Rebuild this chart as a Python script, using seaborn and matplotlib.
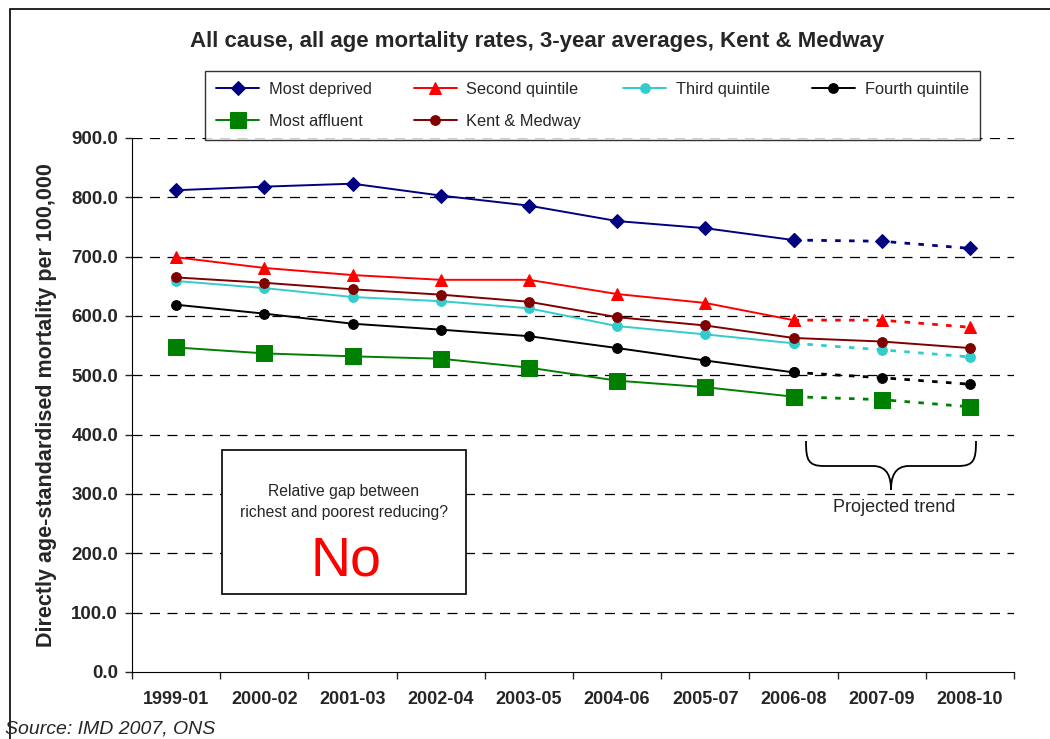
import numpy as np
import pandas as pd
import matplotlib
matplotlib.use("Agg")
import matplotlib.pyplot as plt
from matplotlib.patches import Rectangle, PathPatch
from matplotlib.path import Path
import seaborn as sns

# data
periods = ["1999-01", "2000-02", "2001-03", "2002-04", "2003-05",
           "2004-06", "2005-07", "2006-08", "2007-09", "2008-10"]
most_deprived = [812, 818, 823, 803, 786, 760, 748, 728, 726, 714]
second_quintile = [699, 681, 669, 661, 661, 637, 622, 593, 593, 581]
third_quintile = [659, 647, 632, 625, 613, 583, 569, 554, 543, 531]
fourth_quintile = [619, 604, 587, 577, 566, 546, 525, 505, 496, 485]
most_affluent = [547, 537, 532, 528, 513, 491, 480, 464, 459, 447]
kent_medway = [665, 656, 645, 636, 624, 598, 584, 563, 557, 546]
y_ticks = [0, 100, 200, 300, 400, 500, 600, 700, 800, 900]

last_actual = 7  # 2006-08, later points are projected

sns.set_style("white")
plt.rcParams["font.family"] = ["Liberation Sans", "DejaVu Sans"]

fig = plt.figure(figsize=(10.5, 7.39), dpi=100)
ax = fig.add_axes([132 / 1050, 1 - 672 / 739, (1014 - 132) / 1050, (672 - 138) / 739])

series = [
    ("Most deprived", most_deprived, "#000080", "D", 7.5, True),
    ("Second quintile", second_quintile, "#FF0000", "^", 9, True),
    ("Third quintile", third_quintile, "#33CCCC", "o", 7, True),
    ("Fourth quintile", fourth_quintile, "#000000", "o", 7, True),
    ("Most affluent", most_affluent, "#008000", "s", 11, True),
    ("Kent & Medway", kent_medway, "#800000", "o", 7, False),
]

x = np.arange(len(periods))
for name, vals, col, mk, ms, projected in series:
    vals = np.array(vals)
    end = last_actual + 1 if projected else len(periods)
    sns.lineplot(x=x[:end], y=vals[:end], ax=ax, color=col, marker=mk,
                 markersize=ms, markeredgecolor=col, linewidth=1.4, label=name)
    if projected:
        sns.lineplot(x=x[last_actual:], y=vals[last_actual:], ax=ax, color=col,
                     marker=mk, markersize=ms, markeredgecolor=col,
                     linewidth=2, linestyle=(0, (2, 3)), label="_nolegend_")

# axes styling
ax.set_xlim(-0.5, len(periods) - 0.5)
ax.set_ylim(0, 900)
ax.set_yticks(y_ticks)
ax.set_yticklabels([f"{v:.1f}" for v in y_ticks], fontweight="bold", fontsize=13.5)
ax.set_xticks(x)
ax.set_xticklabels(periods, fontweight="bold", fontsize=13)
ax.set_xticks(np.arange(-0.5, len(periods)), minor=True)
ax.tick_params(axis="x", which="major", length=0, pad=14)
ax.tick_params(axis="x", which="minor", length=5, width=1, direction="out", bottom=True)
ax.tick_params(axis="y", length=5, width=1, direction="out", left=True, pad=5)
for v in y_ticks[1:]:
    ax.axhline(v, color="black", linewidth=0.9, linestyle=(0, (8, 6)), zorder=0)
ax.spines["top"].set_visible(False)
ax.spines["right"].set_visible(False)
ax.spines["left"].set_color("black")
ax.spines["bottom"].set_color("black")
ax.set_xlabel("")
ax.set_ylabel("Directly age-standardised mortality per 100,000",
              fontweight="bold", fontsize=15.5, labelpad=10)

# legend, row-wise order
handles, labels = ax.get_legend_handles_labels()
ax.get_legend().remove()
order = [0, 4, 1, 5, 2, 3]
leg = fig.legend([handles[i] for i in order], [labels[i] for i in order],
                 loc="lower left", ncol=4, mode="expand",
                 bbox_to_anchor=(205 / 1050, 1 - 140 / 739, 775 / 1050, 70 / 739),
                 frameon=True, fancybox=False, edgecolor="black", fontsize=11.8,
                 handlelength=2.6, handletextpad=0.6, borderpad=0.7,
                 labelspacing=1.0, borderaxespad=0)
leg.get_frame().set_linewidth(1)

fig.text(537 / 1050, 1 - 42 / 739,
         "All cause, all age mortality rates, 3-year averages, Kent & Medway",
         ha="center", va="center", fontweight="bold", fontsize=16)

# annotation box
box_l, box_t, box_r, box_b = 222, 450, 466, 594
fig.patches.append(Rectangle((box_l / 1050, 1 - box_b / 739), (box_r - box_l) / 1050,
                             (box_b - box_t) / 739, transform=fig.transFigure,
                             facecolor="white", edgecolor="black", linewidth=1.2, zorder=5))
fig.text(344 / 1050, 1 - 502 / 739, "Relative gap between\nrichest and poorest reducing?",
         ha="center", va="center", fontsize=11.3, linespacing=1.45, zorder=6)
fig.text(346 / 1050, 1 - 561 / 739, "No", ha="center", va="center",
         fontsize=40, color="#FF0000", zorder=6)

# brace for projected trend (figure pixel coordinates)
def px(xp, yp):
    return (xp / 1050, 1 - yp / 739)

xl, xr, xc = 806, 976, 891
yt, ym, yb = 441, 466, 490
verts = [px(xl, yt), px(xl, ym - 6), px(xl + 2, ym), px(xl + 18, ym),
         px(xc - 18, ym), px(xc - 3, ym), px(xc, yb - 12), px(xc, yb),
         px(xc, yb - 12), px(xc + 3, ym), px(xc + 18, ym),
         px(xr - 18, ym), px(xr - 2, ym), px(xr, ym - 6), px(xr, yt)]
codes = [Path.MOVETO, Path.CURVE4, Path.CURVE4, Path.CURVE4,
         Path.LINETO, Path.CURVE4, Path.CURVE4, Path.CURVE4,
         Path.CURVE4, Path.CURVE4, Path.CURVE4,
         Path.LINETO, Path.CURVE4, Path.CURVE4, Path.CURVE4]
fig.patches.append(PathPatch(Path(verts, codes), transform=fig.transFigure,
                             facecolor="none", edgecolor="black", linewidth=1.3))
fig.text(894 / 1050, 1 - 508 / 739, "Projected trend", ha="center", va="center", fontsize=13)

# outer chart border
fig.patches.append(Rectangle((10 / 1050, -0.05), 1.1, 1.05 - 9 / 739,
                             transform=fig.transFigure, facecolor="none",
                             edgecolor="black", linewidth=1.2, clip_on=False))

fig.text(5 / 1050, 1 - 729 / 739, "Source: IMD 2007, ONS", ha="left", va="center",
         fontsize=14, fontstyle="italic")

fig.savefig("out.png", dpi=100)
